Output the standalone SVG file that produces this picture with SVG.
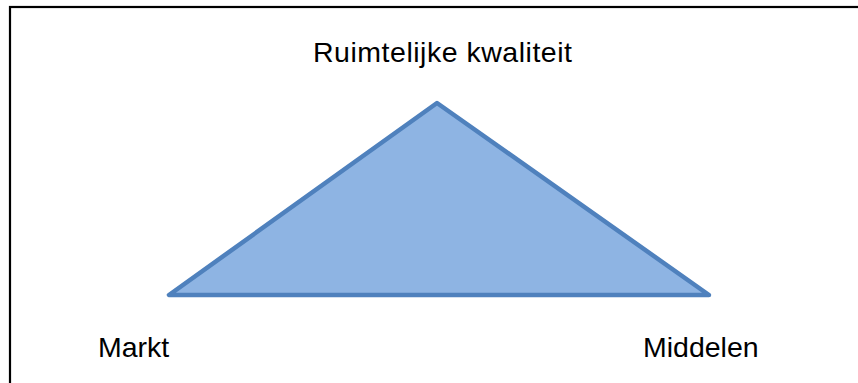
<svg xmlns="http://www.w3.org/2000/svg" width="858" height="383" viewBox="0 0 858 383">
<style>
.lbl{font-family:"Liberation Sans",Arial,sans-serif;font-size:28.5px;fill:#000}
.tri{fill:#8EB4E3;stroke:#4F81BD;stroke-width:4.5;stroke-linejoin:round}
</style>
<rect x="0" y="0" width="858" height="383" fill="#fff"/>
<rect x="10" y="7" width="870" height="400" fill="none" stroke="#000" stroke-width="2.2"/>
<g id="triangle"><polygon class="tri" points="437,103 169,295 709,295"/></g>
<g id="n-ruimte"><text class="lbl" x="313" y="62" textLength="259" lengthAdjust="spacing">Ruimtelijke kwaliteit</text></g>
<g id="n-markt"><text class="lbl" x="98" y="357">Markt</text></g>
<g id="n-middelen"><text class="lbl" x="643" y="357">Middelen</text></g>
<g id="connectors"></g>
</svg>
